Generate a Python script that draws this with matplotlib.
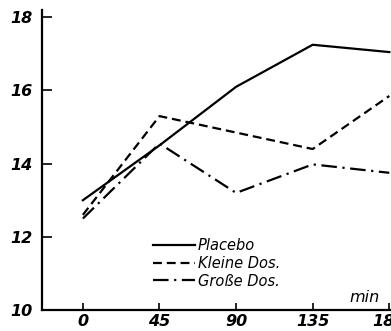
import numpy as np
import matplotlib.pyplot as plt

# time points (min) and values
minutes = [0, 45, 90, 135, 180]
placebo = [13.0, 14.5, 16.1, 17.25, 17.05]
kleine_dos = [12.6, 15.3, 14.85, 14.4, 15.85]
grosse_dos = [12.5, 14.55, 13.2, 13.98, 13.75]

x_ticks = [0, 45, 90, 135, 180]
y_ticks = [10, 12, 14, 16, 18]

fig = plt.figure(figsize=(3.91, 3.31), dpi=100)
ax = fig.add_axes([42 / 391, 21 / 331, 349 / 391, 300 / 331])

lw = 1.6
ax.plot(minutes, placebo, color='black', lw=lw, label='Placebo')
ax.plot(minutes, kleine_dos, color='black', lw=lw, dashes=(4, 2.2), label='Kleine Dos.')
ax.plot(minutes, grosse_dos, color='black', lw=lw, dashes=(7, 2.5, 1, 2.5), label='Große Dos.')

ax.set_xlim(-24, 181)
ax.set_ylim(10, 18.2)
ax.set_xticks(x_ticks)
ax.set_yticks(y_ticks)
ax.set_xticklabels([str(v) for v in x_ticks], fontstyle='italic', fontsize=11.5, fontweight='semibold')
ax.set_yticklabels([str(v) for v in y_ticks], fontstyle='italic', fontsize=11.5, fontweight='semibold')
ax.tick_params(axis='y', direction='in', length=7, width=1.2, pad=7)
ax.tick_params(axis='x', direction='in', length=5, width=1.2, pad=3)

for s in ['top', 'right']:
    ax.spines[s].set_visible(False)
for s in ['left', 'bottom']:
    ax.spines[s].set_linewidth(1.6)

ax.text(0.925, 0.015, 'min', transform=ax.transAxes, fontstyle='italic',
        fontsize=11.5, ha='center', va='bottom')

leg = ax.legend(loc='lower left', bbox_to_anchor=(0.3, 0.052), frameon=False,
                handlelength=2.9, handletextpad=0.2, labelspacing=0.2,
                prop={'style': 'italic', 'size': 10.5}, borderaxespad=0)

plt.savefig('out.png', dpi=100)
